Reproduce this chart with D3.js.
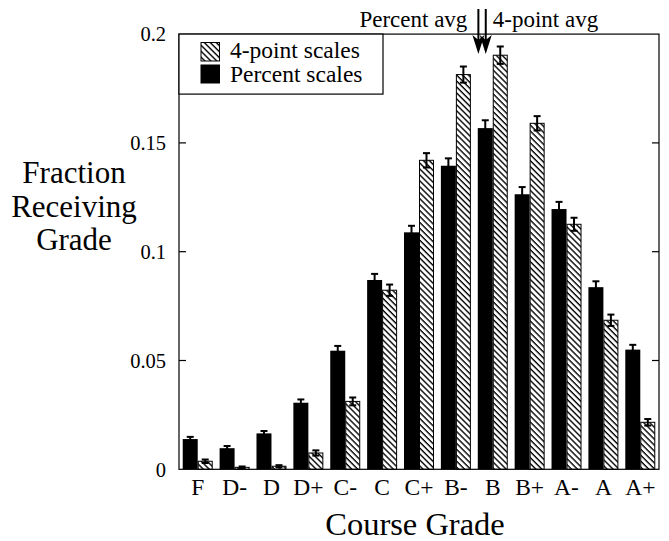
<!DOCTYPE html>
<html><head><meta charset="utf-8">
<script src="https://cdn.jsdelivr.net/npm/d3@7"></script>
<style>
html,body{margin:0;padding:0;background:#fff;}
</style></head>
<body>
<svg id="chart" width="669" height="541" font-family="'Liberation Serif', 'DejaVu Serif', 'Times New Roman', serif"></svg>
<script>
const grades = ["F","D-","D","D+","C-","C","C+","B-","B","B+","A-","A","A+"];
const percentVals = [0.0139,0.0097,0.0165,0.0306,0.0545,0.0870,0.1089,0.1395,0.1568,0.1264,0.1196,0.0837,0.0550];
const percentErr  = [0.0010,0.0010,0.0011,0.0015,0.0022,0.0028,0.0030,0.0034,0.0036,0.0033,0.0033,0.0027,0.0022];
const fourPtVals  = [0.0037,0.0009,0.0014,0.0075,0.0312,0.0823,0.1420,0.1814,0.1903,0.1590,0.1126,0.0685,0.0216];
const fourPtErr   = [0.0008,0.0004,0.0005,0.0012,0.0018,0.0026,0.0033,0.0037,0.0040,0.0033,0.0030,0.0026,0.0015];
const yTicks = [0,0.05,0.1,0.15,0.2];
const yTickLabels = ["0","0.05","0.1","0.15","0.2"];
const seriesNames = ["4-point scales","Percent scales"];
const avgMarkers = [{label:"Percent avg", pos:7.61},{label:"4-point avg", pos:7.81}];

const FONT = "'Liberation Serif', 'DejaVu Serif', 'Times New Roman', serif";
const svg = d3.select("#chart");
const L=179, R=659, T=34.1, B=469.3;

const defs = svg.append("defs");
const pat = defs.append("pattern").attr("id","hatch").attr("patternUnits","userSpaceOnUse")
  .attr("width",4.2).attr("height",4.2).attr("patternTransform","rotate(-45)");
pat.append("rect").attr("width",4.2).attr("height",4.2).attr("fill","#fff");
pat.append("line").attr("x1",1).attr("y1",0).attr("x2",1).attr("y2",4.2)
  .attr("stroke","#000").attr("stroke-width",1.4);

const x = d3.scaleBand().domain(grades).range([L,R]).paddingInner(0.187).paddingOuter(0.101);
const y = d3.scaleLinear().domain([0,0.2]).range([B,T]);
const bw = x.bandwidth()/2;

function txt(sel){ return sel.append("text").attr("font-family",FONT).attr("fill","#000"); }

// bars
const g = svg.append("g");
g.selectAll("rect.pct").data(grades).join("rect")
  .attr("x",d=>x(d)).attr("y",(d,i)=>y(percentVals[i]))
  .attr("width",bw).attr("height",(d,i)=>y(0)-y(percentVals[i])).attr("fill","#000");
g.selectAll("rect.fp").data(grades).join("rect")
  .attr("x",d=>x(d)+bw+0.5).attr("y",(d,i)=>y(fourPtVals[i]))
  .attr("width",bw-1).attr("height",(d,i)=>y(0)-y(fourPtVals[i]))
  .attr("fill","url(#hatch)").attr("stroke","#000").attr("stroke-width",1);

// error bars
function errBars(vals, errs, offset){
  grades.forEach((d,i)=>{
    const cx = x(d)+offset;
    const y1 = y(vals[i]+errs[i]), y2 = y(Math.max(0,vals[i]-errs[i]));
    const eg = g.append("g").attr("stroke","#000").attr("stroke-width",2);
    eg.append("line").attr("x1",cx).attr("x2",cx).attr("y1",y1).attr("y2",y2);
    eg.append("line").attr("x1",cx-3.5).attr("x2",cx+3.5).attr("y1",y1).attr("y2",y1);
    eg.append("line").attr("x1",cx-3.5).attr("x2",cx+3.5).attr("y1",y2).attr("y2",y2);
  });
}
errBars(percentVals, percentErr, bw/2);
errBars(fourPtVals, fourPtErr, bw*1.5);

// frame
svg.append("rect").attr("x",L).attr("y",T).attr("width",R-L).attr("height",B-T)
  .attr("fill","none").attr("stroke","#000").attr("stroke-width",1.2);

// y ticks
yTicks.forEach((t,i)=>{
  if(t>0 && t<0.2){
    svg.append("line").attr("x1",L).attr("x2",L+7).attr("y1",y(t)).attr("y2",y(t)).attr("stroke","#000").attr("stroke-width",1.2);
    svg.append("line").attr("x1",R-7).attr("x2",R).attr("y1",y(t)).attr("y2",y(t)).attr("stroke","#000").attr("stroke-width",1.2);
  }
  txt(svg).attr("x",166).attr("y",y(t)).attr("dy","0.36em")
    .attr("text-anchor","end").attr("font-size","20.5px").text(yTickLabels[i]);
});

// x tick labels
grades.forEach(d=>{
  txt(svg).attr("x",x(d)+x.bandwidth()/2).attr("y",495)
    .attr("text-anchor","middle").attr("font-size","23.5px").text(d);
});

// axis titles
txt(svg).attr("x",415).attr("y",535).attr("text-anchor","middle")
  .attr("font-size","32.5px").text("Course Grade");
const yt = txt(svg).attr("text-anchor","middle").attr("font-size","31px");
["Fraction","Receiving","Grade"].forEach((s,i)=>{
  yt.append("tspan").attr("x",74).attr("y",183+i*33.5).text(s);
});

// legend
svg.append("rect").attr("x",L).attr("y",T).attr("width",204).attr("height",60)
  .attr("fill","#fff").attr("stroke","#000").attr("stroke-width",1.2);
svg.append("rect").attr("x",201).attr("y",42.5).attr("width",18.5).attr("height",18.5)
  .attr("fill","url(#hatch)").attr("stroke","#000").attr("stroke-width",1);
svg.append("rect").attr("x",200.5).attr("y",64.5).attr("width",19.5).attr("height",19)
  .attr("fill","#000");
txt(svg).attr("x",230).attr("y",58).attr("font-size","23.5px").text(seriesNames[0]);
txt(svg).attr("x",230).attr("y",82).attr("font-size","23.5px").text(seriesNames[1]);

// average markers
function posX(p){
  const i = Math.floor(p), f = p-i;
  const c0 = x(grades[i])+x.bandwidth()/2, c1 = x(grades[i+1])+x.bandwidth()/2;
  return c0 + f*(c1-c0);
}
avgMarkers.forEach((m,k)=>{
  const ax = posX(m.pos);
  svg.append("line").attr("x1",ax).attr("x2",ax).attr("y1",9).attr("y2",44)
    .attr("stroke","#000").attr("stroke-width",2);
  svg.append("path").attr("d",`M${ax},54 L${ax-6},35 L${ax},40 L${ax+6},35 Z`).attr("fill","#000");
  txt(svg).attr("x", k===0 ? ax-11 : ax+7).attr("y",27)
    .attr("text-anchor", k===0 ? "end" : "start").attr("font-size","23px").text(m.label);
});
</script>
</body></html>
